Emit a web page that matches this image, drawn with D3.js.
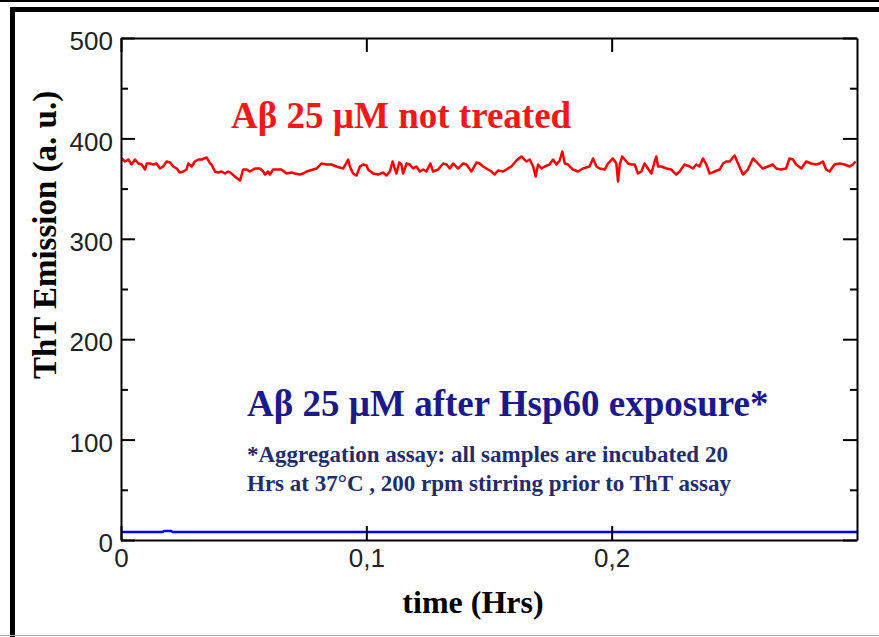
<!DOCTYPE html>
<html>
<head>
<meta charset="utf-8">
<script src="https://cdn.jsdelivr.net/npm/d3@7"></script>
<style>
  html, body { margin: 0; padding: 0; background: #fff; }
  svg { display: block; }
</style>
</head>
<body>
<svg id="chart" width="879" height="637"></svg>
<script>
// ThT emission of Aβ 25 µM over time, untreated vs after Hsp60 exposure

// Untreated sample (red trace): time in hours, emission in a.u.
const redTime = [
  0.0003, 0.0016, 0.0030, 0.0043, 0.0057, 0.0071, 0.0084, 0.0098, 0.0105, 0.0118,
  0.0132, 0.0145, 0.0159, 0.0172, 0.0186, 0.0200, 0.0213, 0.0227, 0.0240, 0.0254,
  0.0267, 0.0274, 0.0288, 0.0301, 0.0315, 0.0329, 0.0349, 0.0363, 0.0369, 0.0383,
  0.0396, 0.0410, 0.0424, 0.0437, 0.0451, 0.0464, 0.0485, 0.0498, 0.0512, 0.0525,
  0.0546, 0.0566, 0.0580, 0.0587, 0.0600, 0.0607, 0.0620, 0.0641, 0.0654, 0.0675,
  0.0695, 0.0709, 0.0729, 0.0743, 0.0756, 0.0770, 0.0797, 0.0817, 0.0838, 0.0858,
  0.0878, 0.0906, 0.0926, 0.0933, 0.0946, 0.0960, 0.0974, 0.0987, 0.1001,
  0.1007, 0.1028, 0.1048, 0.1069, 0.1082, 0.1096, 0.1107, 0.1116, 0.1123, 0.1134,
  0.1143, 0.1150, 0.1164, 0.1177, 0.1191, 0.1204, 0.1218, 0.1232, 0.1245, 0.1261,
  0.1272, 0.1293, 0.1313, 0.1327, 0.1340, 0.1354, 0.1374, 0.1394, 0.1408, 0.1428,
  0.1449, 0.1462, 0.1476, 0.1489, 0.1510, 0.1523, 0.1537, 0.1557, 0.1571, 0.1591,
  0.1612, 0.1632, 0.1652, 0.1666, 0.1680, 0.1690, 0.1700, 0.1714, 0.1727, 0.1747,
  0.1761, 0.1775, 0.1788, 0.1799, 0.1809, 0.1822, 0.1842, 0.1863, 0.1883, 0.1910,
  0.1924, 0.1938, 0.1951, 0.1972, 0.1985, 0.2005, 0.2019, 0.2026,
  0.2033, 0.2043, 0.2053, 0.2067, 0.2080, 0.2094, 0.2107, 0.2121, 0.2134, 0.2148,
  0.2162, 0.2175, 0.2182, 0.2189, 0.2202, 0.2223, 0.2243, 0.2263, 0.2277, 0.2297,
  0.2318, 0.2331, 0.2345, 0.2358, 0.2372, 0.2386, 0.2399, 0.2420, 0.2440, 0.2454,
  0.2467, 0.2481, 0.2501, 0.2515, 0.2535, 0.2555, 0.2576, 0.2596, 0.2616, 0.2637,
  0.2657, 0.2671, 0.2691, 0.2711, 0.2725, 0.2739, 0.2752, 0.2773, 0.2793, 0.2813,
  0.2834, 0.2847, 0.2861, 0.2874, 0.2888, 0.2908, 0.2929, 0.2949, 0.2970, 0.2983,
  0.2994
];
const redValue = [
  380, 377, 379, 374, 379, 375, 374, 369, 375, 375,
  374, 375, 370, 372, 377, 376, 372, 370, 366, 367,
  369, 375, 372, 377, 379, 379, 381, 375, 374, 367,
  366, 367, 365, 367, 365, 362, 358, 369, 369, 367,
  370, 370, 367, 364, 367, 364, 369, 369, 369, 365,
  366, 365, 364, 365, 367, 368, 370, 375, 374, 374,
  372, 370, 379, 372, 365, 363, 372, 374, 373,
  369, 365, 364, 366, 363, 367, 377, 370, 365, 376,
  374, 365, 375, 374, 370, 372, 367, 369, 367, 375,
  367, 369, 375, 374, 370, 375, 370, 375, 374, 367,
  376, 375, 372, 370, 367, 364, 368, 367, 369, 372,
  378, 382, 377, 379, 372, 362, 374, 370, 372, 374,
  379, 374, 378, 387, 375, 374, 369, 367, 370, 372,
  380, 372, 370, 369, 375, 380, 375, 357,
  374, 382, 379, 375, 374, 374, 365, 367, 375, 370,
  365, 377, 382, 372, 372, 370, 369, 364, 367, 374,
  372, 370, 374, 372, 380, 374, 365, 367, 369, 375,
  377, 377, 383, 375, 364, 369, 380, 375, 370, 372,
  374, 370, 369, 370, 380, 379, 374, 370, 377, 375,
  374, 375, 377, 369, 367, 374, 375, 374, 372, 374,
  377
];

// Sample after Hsp60 exposure (blue trace)
const blueTime  = [0, 0.0170, 0.0175, 0.0205, 0.0210, 0.3];
const blueValue = [8, 8, 9, 9, 8, 8];

// Axis ticks
const xMajorTicks = [0, 0.1, 0.2];
const yMajorTicks = [0, 100, 200, 300, 400, 500];
const yMinorTicks = [50, 150, 250, 350, 450];

// Text
const yTitle = "ThT Emission (a. u.)";
const xTitle = "time (Hrs)";
const redLabel = "Aβ 25 µM not treated";
const blueLabel = "Aβ 25 µM after Hsp60 exposure*";
const noteLines = [
  "*Aggregation assay: all samples are incubated 20",
  "Hrs at 37°C , 200 rpm stirring prior to ThT assay"
];

const svg = d3.select("#chart");
const W = 879, H = 637;
const plot = { left: 121, right: 857, top: 38, bottom: 540 };

const x = d3.scaleLinear().domain([0, 0.3]).range([plot.left, plot.right]);
const y = d3.scaleLinear().domain([0, 500]).range([plot.bottom, plot.top]);

// Slide frame
svg.append("line").attr("x1", 0).attr("x2", W).attr("y1", 1).attr("y2", 1)
  .attr("stroke", "#000").attr("stroke-width", 2);
svg.append("line").attr("x1", 10).attr("x2", W).attr("y1", 9.5).attr("y2", 9.5)
  .attr("stroke", "#000").attr("stroke-width", 5);
svg.append("line").attr("x1", 12.5).attr("x2", 12.5).attr("y1", 7).attr("y2", H)
  .attr("stroke", "#000").attr("stroke-width", 5);
svg.append("line").attr("x1", 0).attr("x2", W).attr("y1", 635.5).attr("y2", 635.5)
  .attr("stroke", "#aaa").attr("stroke-width", 1);

// Data traces
svg.append("clipPath").attr("id", "plotClip").append("rect")
  .attr("x", plot.left).attr("y", plot.top)
  .attr("width", plot.right - plot.left).attr("height", plot.bottom - plot.top);

const line = d3.line().x(d => x(d[0])).y(d => y(d[1]));
const g = svg.append("g").attr("clip-path", "url(#plotClip)");
g.append("path")
  .datum(redTime.map((t, i) => [t, redValue[i]]))
  .attr("d", line).attr("fill", "none")
  .attr("stroke", "#ff0000").attr("stroke-width", 2.5).attr("stroke-linejoin", "round");
g.append("path")
  .datum(blueTime.map((t, i) => [t, blueValue[i]]))
  .attr("d", line).attr("fill", "none")
  .attr("stroke", "#0000ff").attr("stroke-width", 2.5);

// Axes: ticks point inward on all four sides
const fmt = d3.formatLocale({ decimal: ",", thousands: ".", grouping: [3], currency: ["", ""] });
const xFmt = v => v === 0 ? "0" : fmt.format(".1f")(v);

function styleAxis(sel) {
  sel.selectAll(".domain").attr("stroke", "#000").attr("stroke-width", 2);
  sel.selectAll(".tick line").attr("stroke", "#000").attr("stroke-width", 2);
  sel.selectAll(".tick text")
    .attr("fill", "#222")
    .style("font-family", "'Liberation Sans', Arial, Helvetica, sans-serif")
    .style("font-size", "26px");
}

const yLeft = svg.append("g").attr("transform", `translate(${plot.left},0)`)
  .call(d3.axisLeft(y).tickValues(yMajorTicks).tickSizeInner(-14).tickSizeOuter(0).tickPadding(8));
yLeft.selectAll(".tick text").attr("dy", "0.45em");
styleAxis(yLeft);
svg.append("g").attr("transform", `translate(${plot.left},0)`)
  .call(d3.axisLeft(y).tickValues(yMinorTicks).tickSize(-7).tickFormat(""))
  .call(s => s.select(".domain").remove())
  .call(styleAxis);

const yRight = svg.append("g").attr("transform", `translate(${plot.right},0)`)
  .call(d3.axisRight(y).tickValues(yMajorTicks).tickSizeInner(-14).tickSizeOuter(0).tickFormat(""));
styleAxis(yRight);
svg.append("g").attr("transform", `translate(${plot.right},0)`)
  .call(d3.axisRight(y).tickValues(yMinorTicks).tickSize(-7).tickFormat(""))
  .call(s => s.select(".domain").remove())
  .call(styleAxis);

const xTop = svg.append("g").attr("transform", `translate(0,${plot.top})`)
  .call(d3.axisTop(x).tickValues(xMajorTicks).tickSizeInner(-14).tickSizeOuter(0).tickFormat(""));
styleAxis(xTop);

const xBottom = svg.append("g").attr("transform", `translate(0,${plot.bottom})`)
  .call(d3.axisBottom(x).tickValues(xMajorTicks).tickSizeInner(-14).tickSizeOuter(0).tickPadding(9).tickFormat(xFmt));
styleAxis(xBottom);
xBottom.selectAll(".tick text").attr("dy", "0.71em");

// Axis titles
const serif = "'Liberation Serif', 'Times New Roman', Times, serif";
svg.append("text")
  .attr("transform", "translate(56,235) rotate(-90)")
  .attr("text-anchor", "middle")
  .style("font-family", serif).style("font-weight", "bold").style("font-size", "33px")
  .attr("fill", "#000")
  .text(yTitle);
svg.append("text")
  .attr("x", 473).attr("y", 613)
  .attr("text-anchor", "middle")
  .style("font-family", serif).style("font-weight", "bold").style("font-size", "32px")
  .attr("fill", "#000")
  .text(xTitle);

// Series labels and note
svg.append("text")
  .attr("x", 231).attr("y", 128)
  .style("font-family", serif).style("font-weight", "bold").style("font-size", "37px")
  .attr("fill", "#f21818")
  .text(redLabel);
svg.append("text")
  .attr("x", 247).attr("y", 416)
  .style("font-family", serif).style("font-weight", "bold").style("font-size", "37px")
  .attr("fill", "#1a1a8c")
  .text(blueLabel);
svg.selectAll("text.note").data(noteLines).enter().append("text")
  .attr("class", "note")
  .attr("x", 247).attr("y", (d, i) => 462 + i * 29)
  .style("font-family", serif).style("font-weight", "bold").style("font-size", "23px")
  .attr("fill", "#1f2d6c")
  .text(d => d);
</script>
</body>
</html>
